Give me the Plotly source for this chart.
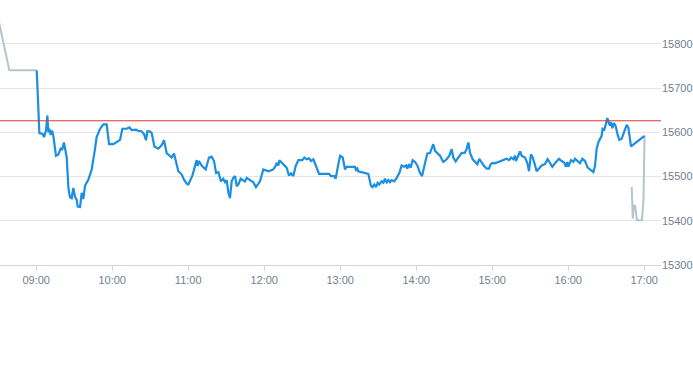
import pandas as pd
import plotly.graph_objects as go

# ---- data (minutes after 09:00, price) ----
session_date = "2024-01-02 09:00"

blue_minutes = [0.4, 2.5, 5.1, 6.2, 7.7, 8.8, 9.6, 10.4, 11.4, 12.5, 13.5, 15.6, 17.5, 19.3, 20.6, 21.9,
    24.1, 25.4, 26.7, 28.0, 29.3, 30.6, 32.0, 32.7, 34.6, 35.9, 37.2, 38.5, 41.2, 43.8, 46.4, 47.7,
    50.4, 53.0, 55.6, 57.5, 60.9, 64.8, 66.2, 68.0, 71.4, 73.5, 75.4, 78.8, 79.8, 83.3, 85.1, 86.7,
    87.7, 89.8, 91.2, 93.3, 96.4, 99.1, 100.9, 103.0, 105.1, 107.0, 108.8, 110.9, 112.2, 114.8,
    116.7, 118.8, 120.1, 123.3, 125.4, 126.7, 127.5, 128.5, 130.6, 133.8, 136.4, 138.5, 140.4,
    142.0, 143.8, 145.9, 147.7, 149.1, 150.4, 151.7, 153.0, 154.3, 155.6, 157.0, 158.3, 159.6,
    161.4, 163.5, 164.8, 166.2, 168.8, 171.4, 173.5, 176.7, 179.3, 183.3, 187.2, 189.1, 189.8,
    191.2, 192.0, 195.1, 197.7, 199.6, 201.2, 203.0, 204.9, 207.0, 210.1, 211.7, 213.5, 215.4,
    217.0, 218.8, 220.6, 223.3, 231.2, 232.7, 235.4, 236.4, 238.0, 239.9, 242.0, 243.8, 245.1,
    251.7, 252.5, 253.5, 254.3, 257.0, 262.2, 264.3, 265.6, 266.9, 268.3, 269.6, 270.9, 272.7,
    274.1, 275.4, 276.7, 278.0, 279.3, 280.6, 282.7, 284.6, 286.7, 288.5, 290.4, 292.0, 293.0,
    294.3, 295.6, 297.2, 299.1, 300.9, 303.0, 304.6, 307.0, 308.8, 310.9, 312.2, 313.5, 314.9,
    316.2, 318.8, 321.4, 324.1, 326.2, 328.0, 329.3, 331.2, 333.3, 335.9, 338.5, 339.9, 341.2,
    342.5, 344.6, 346.4, 348.3, 349.8, 351.7, 353.5, 355.6, 357.5, 358.8, 360.4, 362.2, 364.9,
    367.5, 369.6, 371.4, 373.3, 374.9, 376.7, 378.0, 378.8, 380.6, 382.0, 383.3, 385.9, 387.7,
    389.1, 390.6, 392.0, 393.3, 395.1, 397.0, 399.1, 401.7, 403.8, 405.6, 407.5, 409.6, 412.7,
    414.9, 417.0, 418.3, 419.3, 420.1, 422.2, 424.1, 425.4, 427.5, 429.3, 431.2, 433.3, 435.4,
    438.0, 439.9, 441.2, 442.5, 443.8, 445.1, 446.4, 447.2, 448.5, 449.8, 450.9, 452.2, 453.0,
    453.8, 454.9, 456.2, 457.5, 459.1, 460.4, 462.2, 464.3, 466.2, 467.5, 469.6, 480.3]

blue_values = [15740, 15598, 15596, 15589, 15604, 15638, 15600, 15608, 15594, 15604, 15592, 15547,
    15550, 15563, 15562, 15577, 15543, 15474, 15453, 15451, 15474, 15454, 15447, 15432, 15431,
    15463, 15449, 15479, 15493, 15516, 15562, 15589, 15608, 15618, 15618, 15573, 15573, 15581,
    15583, 15608, 15608, 15611, 15605, 15606, 15604, 15602, 15596, 15582, 15602, 15602, 15598,
    15568, 15563, 15571, 15582, 15553, 15548, 15543, 15552, 15528, 15512, 15505, 15493, 15484,
    15482, 15502, 15524, 15537, 15524, 15535, 15525, 15516, 15543, 15545, 15535, 15508, 15510,
    15489, 15495, 15487, 15492, 15464, 15451, 15489, 15497, 15501, 15478, 15482, 15495, 15492,
    15489, 15497, 15492, 15487, 15476, 15489, 15516, 15512, 15516, 15524, 15531, 15525, 15537,
    15529, 15520, 15502, 15507, 15501, 15524, 15537, 15537, 15543, 15539, 15541, 15535, 15539,
    15525, 15506, 15506, 15501, 15501, 15495, 15520, 15547, 15543, 15516, 15522, 15522, 15515,
    15518, 15512, 15510, 15506, 15479, 15476, 15482, 15476, 15486, 15482, 15489, 15486, 15495,
    15487, 15492, 15487, 15492, 15489, 15497, 15508, 15525, 15522, 15525, 15518, 15528, 15520,
    15537, 15533, 15525, 15508, 15501, 15535, 15552, 15553, 15562, 15573, 15558, 15554, 15547,
    15533, 15539, 15547, 15562, 15543, 15534, 15543, 15553, 15554, 15563, 15577, 15554, 15539,
    15533, 15528, 15540, 15531, 15524, 15518, 15518, 15528, 15531, 15530, 15533, 15535, 15539,
    15540, 15537, 15543, 15539, 15547, 15535, 15548, 15557, 15547, 15543, 15531, 15512, 15550,
    15543, 15531, 15512, 15518, 15525, 15528, 15539, 15531, 15522, 15530, 15540, 15535, 15531,
    15522, 15533, 15522, 15537, 15533, 15540, 15535, 15530, 15540, 15535, 15520, 15514, 15510,
    15524, 15563, 15577, 15586, 15592, 15608, 15606, 15619, 15632, 15621, 15615, 15623, 15609,
    15621, 15614, 15594, 15583, 15585, 15600, 15617, 15611, 15568, 15592]

grey_pre_minutes = [-29.5, -21.2, 0.4]
grey_pre_values = [15850, 15740, 15740]

grey_post_minutes = [470.2, 471.0, 472.1, 473.0, 474.3, 478.3, 479.5, 480.3]
grey_post_values = [15476, 15405, 15436, 15432, 15401, 15401, 15450, 15592]

reference_price = 15626
y_range = [15300, 15899]
x_range_minutes = [-28.6, 493.3]
tick_step_ms = 3600000

# ---- build ----
base = pd.Timestamp(session_date)


def to_time(mins):
    return [base + pd.Timedelta(minutes=m) for m in mins]


LABEL = "#737e8e"
fig = go.Figure()
fig.add_trace(go.Scatter(x=to_time(grey_pre_minutes), y=grey_pre_values, mode="lines",
                         line=dict(color="#b7c3cd", width=2), hoverinfo="skip", showlegend=False))
fig.add_trace(go.Scatter(x=to_time(grey_post_minutes), y=grey_post_values, mode="lines",
                         line=dict(color="#b7c3cd", width=2), hoverinfo="skip", showlegend=False))
fig.add_trace(go.Scatter(x=to_time(blue_minutes), y=blue_values, mode="lines",
                         line=dict(color="#1a8fe3", width=2.2), showlegend=False))

fig.add_shape(type="line", xref="paper", x0=0, x1=1, yref="y",
              y0=reference_price, y1=reference_price,
              line=dict(color="#e0392f", width=1), layer="above")

xr = to_time(x_range_minutes)
fig.update_layout(
    width=693, height=365,
    margin=dict(l=0, r=32, t=0, b=100, autoexpand=False),
    paper_bgcolor="white", plot_bgcolor="white",
    font=dict(family="Liberation Sans, Arial, sans-serif", size=11, color=LABEL),
    xaxis=dict(range=xr, type="date", tickformat="%H:%M", dtick=tick_step_ms,
               tick0=base, showgrid=False, showline=True, linecolor="#ccd6eb",
               linewidth=1, ticks="outside", ticklen=5, tickcolor="#ccd6eb",
               zeroline=False, tickfont=dict(size=11, color=LABEL)),
    yaxis=dict(range=y_range, side="right", dtick=100, tick0=15300,
               showgrid=True, gridcolor="#e6e6e6", gridwidth=1, zeroline=False,
               showline=False, ticks="", tickformat="d",
               tickfont=dict(size=11, color=LABEL), ticklabelstandoff=0),
)

fig.write_html("out.html", config={"displayModeBar": False},
               post_script="document.body.style.margin='0';")
